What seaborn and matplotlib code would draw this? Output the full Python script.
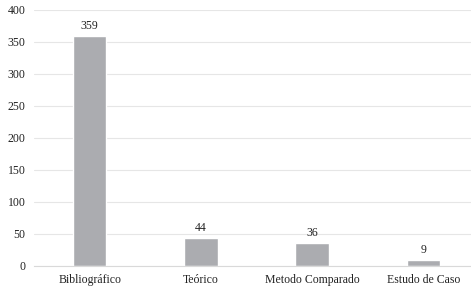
import matplotlib
matplotlib.use("Agg")
import matplotlib.pyplot as plt
import seaborn as sns
import pandas as pd

categories = ["Bibliográfico", "Teórico", "Metodo Comparado", "Estudo de Caso"]
values = [359, 44, 36, 9]
yticks = [0, 50, 100, 150, 200, 250, 300, 350, 400]

sns.set_style("white")
plt.rcParams['font.family'] = ['Liberation Serif', 'DejaVu Serif']

df = pd.DataFrame({"cat": categories, "val": values})

fig = plt.figure(figsize=(4.71, 3.01), dpi=100)
ax = fig.add_axes([34/471, 35/301, 445/471, 256/301])
sns.barplot(data=df, x="cat", y="val", color="#abacb0", saturation=1, width=0.3, ax=ax)

ax.set_ylim(0, 400)
ax.set_yticks(yticks)
ax.set_xlim(-0.5, 3.5)
ax.grid(axis="y", color="#e6e6e6", linewidth=0.8)
ax.set_axisbelow(True)
for s in ["top", "right", "left"]:
    ax.spines[s].set_visible(False)
ax.spines["bottom"].set_color("#d9d9d9")
ax.spines["bottom"].set_linewidth(0.8)
ax.set_xlabel("")
ax.set_ylabel("")
ax.tick_params(axis="both", length=0, labelsize=8.5, colors="#222222", pad=6)
ax.tick_params(axis="y", pad=6)

for i, v in enumerate(values):
    ax.text(i, v + 6, str(v), ha="center", va="bottom", fontsize=8.5, color="#222222")

fig.savefig("out.png", dpi=100)
